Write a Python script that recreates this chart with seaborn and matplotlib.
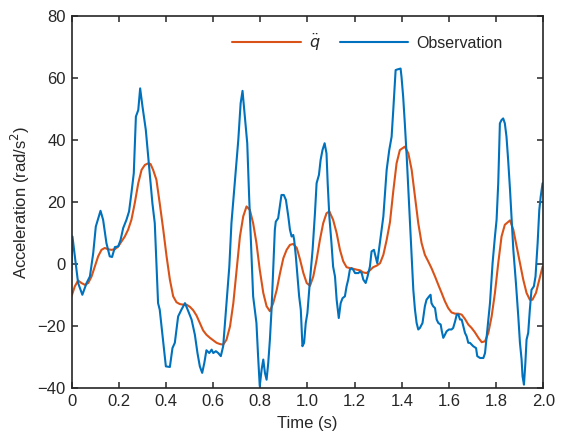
import numpy as np
import pandas as pd
import seaborn as sns
import matplotlib
matplotlib.use("Agg")
import matplotlib.pyplot as plt

# Observation (blue)
t_obs = [0.0, 0.004, 0.018, 0.028, 0.046, 0.064, 0.078, 0.092, 0.103, 0.123,
         0.134, 0.148, 0.162, 0.172, 0.184, 0.198, 0.208, 0.219, 0.233, 0.244,
         0.254, 0.264, 0.273, 0.283, 0.291, 0.301, 0.315, 0.329, 0.343, 0.353,
         0.367, 0.374, 0.389, 0.400, 0.417, 0.428, 0.438, 0.452, 0.466, 0.481,
         0.495, 0.509, 0.523, 0.534, 0.544, 0.554, 0.563, 0.572, 0.584, 0.594,
         0.601, 0.612, 0.622, 0.633,
         0.643, 0.657, 0.669, 0.678, 0.692, 0.707, 0.717, 0.725, 0.735, 0.745,
         0.753, 0.763, 0.770, 0.777, 0.784, 0.791, 0.798, 0.806, 0.813, 0.820,
         0.827, 0.834, 0.841, 0.848, 0.855, 0.862, 0.866, 0.876, 0.883, 0.890,
         0.900, 0.909, 0.919, 0.926, 0.933, 0.940, 0.944, 0.951, 0.958, 0.965,
         0.972, 0.979, 0.986, 0.993, 1.000, 1.010, 1.022, 1.032, 1.039, 1.049,
         1.056, 1.064, 1.073, 1.081, 1.086, 1.093, 1.102, 1.109, 1.117, 1.124,
         1.133, 1.141, 1.149, 1.159, 1.166, 1.173, 1.180, 1.187, 1.194, 1.202,
         1.209, 1.216, 1.223, 1.230, 1.237, 1.247, 1.255, 1.265, 1.272, 1.282,
         1.289, 1.296,
         1.322, 1.336, 1.347, 1.357, 1.364, 1.374, 1.381, 1.395, 1.399, 1.406,
         1.413, 1.421, 1.428, 1.435, 1.442, 1.449, 1.456, 1.463, 1.470, 1.477,
         1.488, 1.498, 1.505, 1.516, 1.522, 1.526, 1.533, 1.541, 1.548, 1.555,
         1.565, 1.570, 1.576, 1.583, 1.590, 1.600, 1.611, 1.618, 1.626, 1.633,
         1.640, 1.647, 1.654, 1.661, 1.668, 1.675, 1.682, 1.689, 1.703, 1.715,
         1.720, 1.732, 1.746, 1.753, 1.760, 1.767, 1.774, 1.785, 1.795, 1.802,
         1.809, 1.816, 1.823, 1.830, 1.837, 1.844, 1.851, 1.859, 1.866, 1.873,
         1.884, 1.894, 1.901, 1.908, 1.912, 1.918, 1.924, 1.929, 1.936, 1.943,
         1.950, 1.960, 1.967, 1.976, 1.983, 1.989, 1.997]
obs = [-1.8, 8.9, 0.3, -6.1, -9.9, -6.1, -4, 3.5, 12.1, 17.2,
       14.3, 6.8, 2.5, 2.3, 5.5, 5.7, 7.8, 11.6, 14.3, 17,
       22.9, 29.3, 47.6, 49.7, 56.7, 50.8, 43.3, 31.5, 19.6, 13.2,
       -12.6, -14.7, -25.4, -33, -33.2, -27.1, -25.4, -16.9, -14.7, -12.6,
       -15.2, -17.9, -22.8, -28.7, -33, -35.1, -31.9, -27.8, -28.7, -27.6,
       -28.7, -28.1, -28.7, -29.7,
       -26.5, -12.6, -0.8, 13.2, 26.1, 40, 51.9, 55.9, 47.6, 39,
       21.8, 2.5, -10.4, -14.7, -19, -29.7, -39.4, -34, -30.8, -35.1,
       -37.3, -31.9, -24.4, -14.7, -1.8, 11.1, 13.7, 14.8, 18.6, 22.3,
       22.3, 20.7, 15.4, 11.1, 8.9, 9.4, 7.8, 2.5, -4, -10.4,
       -14.7, -26.5, -25.4, -19, -15.8, -6.1, 4.6, 16.4, 26.1, 28.8,
       33.6, 36.8, 39, 35.7, 26.1, 15.4, 6.8, -0.8, -4, -11.5,
       -17.4, -12.6, -11, -10.4, -7.2, -5, -1.8, -1.3, -1.8, -2.9,
       -2.9, -2.9, -2.4, -2.9, -5, -6.1, -4, -0.8, 4.1, 4.6,
       2.5, 0.3,
       15.4, 30.4, 36.8, 41.1, 49.7, 62.6, 62.8, 63.1, 60.4, 54,
       45.4, 34.7, 23.9, 13.2, 2.5, -8.3, -14.7, -19, -21.1, -20.6,
       -19, -13.6, -11.5, -10.4, -9.9, -12.6, -13.6, -14.2, -17.9, -19,
       -19.5, -21.7, -23.8, -22.8, -21.7, -21.1, -21.1, -20.6, -18.5, -16.3,
       -16.3, -17.9, -17.9, -20.1, -22.2, -23.3, -25.4, -25.4, -26.5, -27.1,
       -29.7, -30.3, -30.3, -28.7, -23.3, -17.9, -12.6, 0.3, 8.9, 14.3,
       26.1, 45.4, 46.5, 47, 45.4, 41.1, 33.6, 23.9, 14.3, 4.6,
       -6.1, -16.9, -25.4, -30.8, -36.2, -38.9, -31.9, -24.4, -22.2, -14.7,
       -8.3, -7.2, -4, 6.8, 17.5, 21.8, 26.1]

# q double-dot (orange)
t_q = [0.0, 0.014, 0.028, 0.042, 0.057, 0.071, 0.085, 0.099, 0.113, 0.127,
       0.141, 0.155, 0.169, 0.184, 0.198, 0.212, 0.226, 0.240, 0.254, 0.268,
       0.283, 0.297, 0.311, 0.325, 0.335, 0.346, 0.360, 0.374, 0.389, 0.403,
       0.417, 0.431, 0.445, 0.459, 0.474, 0.488, 0.502, 0.516, 0.530, 0.544,
       0.558, 0.572, 0.587, 0.601, 0.615, 0.629, 0.643, 0.657, 0.672, 0.686,
       0.700, 0.714, 0.728, 0.742, 0.756, 0.770, 0.784, 0.798, 0.813, 0.827,
       0.841, 0.855, 0.870, 0.884, 0.898, 0.912, 0.926, 0.940, 0.955, 0.969,
       0.983, 0.997, 1.011, 1.025, 1.039, 1.053, 1.067, 1.081, 1.093, 1.109,
       1.124, 1.138, 1.152, 1.166, 1.180, 1.194, 1.209, 1.223, 1.237, 1.251,
       1.265, 1.279, 1.294, 1.308, 1.322, 1.336, 1.350, 1.364, 1.378, 1.392,
       1.413, 1.428, 1.442, 1.456, 1.470, 1.484, 1.498, 1.512, 1.526, 1.541,
       1.555, 1.569, 1.583, 1.597, 1.611, 1.626, 1.640, 1.654, 1.668, 1.682,
       1.696, 1.710, 1.725, 1.739, 1.753, 1.767, 1.781, 1.795, 1.809, 1.823,
       1.837, 1.859, 1.873, 1.887, 1.901, 1.915, 1.929, 1.943, 1.954, 1.969,
       1.983, 1.997]
q_dd = [-10.4, -7.2, -5.3, -6.1, -6.7, -6.1, -4, -0.8, 2.5, 4.6,
        5.2, 4.8, 4.6, 4.8, 5.7, 7.3, 8.9, 11.1, 14.3, 19.6,
        26.1, 30.4, 32, 32.5, 32.3, 30.4, 27.2, 19.6, 11.1, 2.5,
        -5, -10.4, -12.3, -12.9, -13.1, -13.1, -13.8, -14.9, -16.6, -19,
        -21.4, -22.8, -23.8, -24.6, -25.4, -25.8, -26, -24.4, -20.1, -12.6,
        -1.8, 8.9, 15.4, 18.6, 17.5, 13.2, 6.8, -1.8, -9.3, -13.6,
        -15.2, -12.6, -8.3, -2.9, 1.9, 4.6, 6.2, 6.5, 5.2, 1.4,
        -2.9, -6.1, -7, -4, 1.4, 7.8, 13.2, 16.4, 17, 14.3,
        10, 4.6, 0.9, -1, -1.3, -1.5, -1.8, -2, -2.7, -2.9,
        -2, -1, -0.5, 0.3, 3, 7.8, 13.5, 23.5, 32.5, 36.8,
        37.9, 35.7, 30.4, 21.8, 13.2, 6.8, 3, 0.9, -1.3, -4,
        -6.7, -9.3, -12, -14.2, -15.6, -16, -16, -16.3, -17.7, -19.5,
        -20.6, -22, -23.8, -25.2, -24.9, -22.2, -16.9, -9.3, 0.3, 8.9,
        12.7, 14.1, 11.1, 5.7, 0.3, -5, -9.3, -11.5, -11.5, -9.3,
        -5, -0.8]

x_ticks = [0, 0.2, 0.4, 0.6, 0.8, 1.0, 1.2, 1.4, 1.6, 1.8, 2.0]
x_labels = ["0", "0.2", "0.4", "0.6", "0.8", "1.0", "1.2", "1.4", "1.6", "1.8", "2.0"]
y_ticks = [-40, -20, 0, 20, 40, 60, 80]

q_name = r"$\ddot{q}$"
df = pd.concat([
    pd.DataFrame({"t": t_q, "acc": q_dd, "series": q_name}),
    pd.DataFrame({"t": t_obs, "acc": obs, "series": "Observation"}),
])

sns.set_style("ticks")
plt.rcParams["font.family"] = ["Liberation Sans", "DejaVu Sans"]
plt.rcParams["mathtext.fontset"] = "dejavusans"

fig = plt.figure(figsize=(5.63, 4.37), dpi=100)
ax = fig.add_axes([0.127, 0.112, 0.838, 0.851])

sns.lineplot(data=df, x="t", y="acc", hue="series", estimator=None,
             palette={q_name: "#D95319", "Observation": "#0072BD"},
             linewidth=1.5, ax=ax)

ax.set_xlim(0, 2.0)
ax.set_ylim(-40, 80)
ax.set_xticks(x_ticks)
ax.set_xticklabels(x_labels)
ax.set_yticks(y_ticks)
ax.set_xlabel("Time (s)", fontsize=12, color="#262626", labelpad=5)
ax.set_ylabel("Acceleration (rad/s$^2$)", fontsize=12, color="#262626", labelpad=4)
ax.tick_params(direction="in", length=4, width=1.1, top=True, right=True,
               labelsize=12, labelcolor="#262626", color="#262626", pad=4)
for s in ax.spines.values():
    s.set_linewidth(1.2)
    s.set_color("#262626")

ax.legend(loc="center", bbox_to_anchor=(0.627, 0.93), ncol=2, frameon=False,
          fontsize=11.5, handlelength=4.3, handletextpad=0.5, columnspacing=1.2)

fig.savefig("out.png", dpi=100)
